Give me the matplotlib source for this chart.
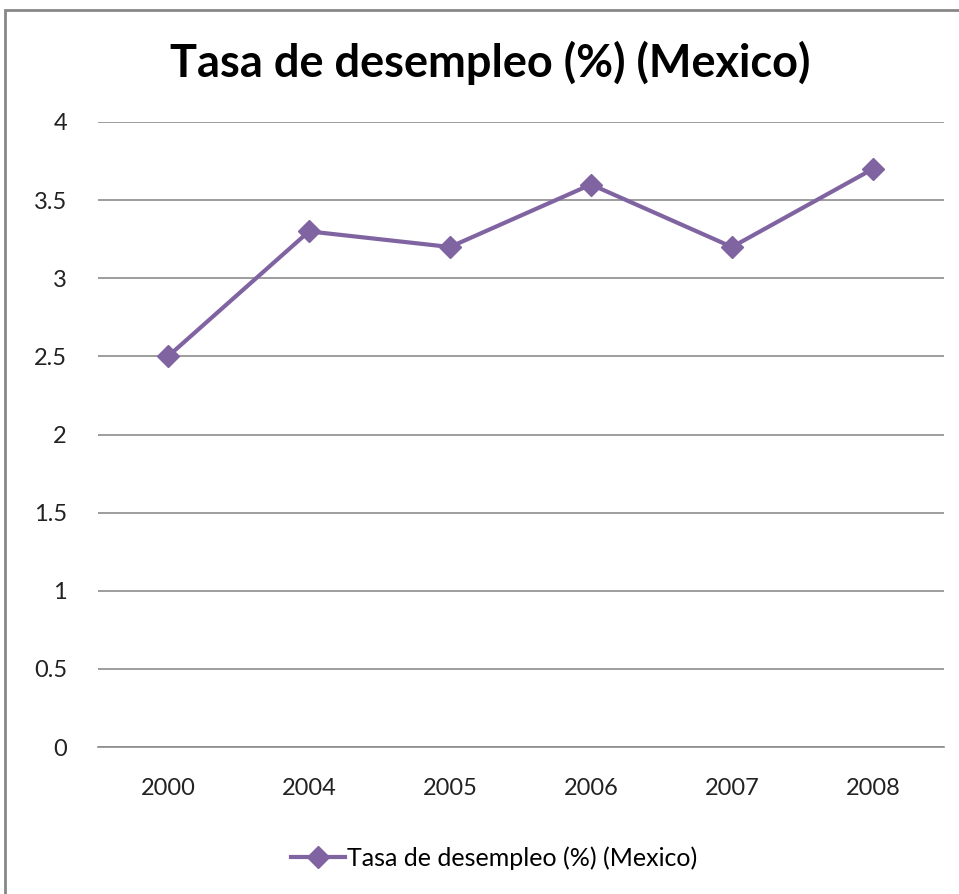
import matplotlib
matplotlib.use("Agg")
import matplotlib.pyplot as plt
from matplotlib.patches import Rectangle

years = ["2000", "2004", "2005", "2006", "2007", "2008"]
values = [2.5, 3.3, 3.2, 3.6, 3.2, 3.7]
title = "Tasa de desempleo (%) (Mexico)"
yticks = [0, 0.5, 1, 1.5, 2, 2.5, 3, 3.5, 4]

color = "#8064A2"
plt.rcParams['font.family'] = ['Lato', 'DejaVu Sans']

fig = plt.figure(figsize=(9.59, 8.94), dpi=100)
fig.patches.append(Rectangle((5/959, -0.1), 1.2, 1.1 - 10/894, transform=fig.transFigure,
                             fill=False, edgecolor="#878787", linewidth=2, zorder=0))

ax = fig.add_axes([97.5/959, 147/894, 846/959, 625/894])
x = list(range(len(years)))
ax.plot(x, values, color=color, linewidth=3, marker="D", markersize=11,
        label=title, zorder=3)
ax.set_xlim(-0.5, len(years) - 0.5)
ax.set_ylim(0, 4)
ax.set_yticks(yticks)
ax.set_yticklabels([f"{v:g}" for v in yticks])
ax.set_xticks(x)
ax.set_xticklabels(years)
ax.grid(axis="y", color="#8c8c8c", linewidth=1.2)
ax.set_axisbelow(True)
for s in ["top", "right", "left"]:
    ax.spines[s].set_visible(False)
ax.spines["bottom"].set_color("#8c8c8c")
ax.spines["bottom"].set_linewidth(1.2)
ax.tick_params(axis="both", length=0, labelsize=17, colors="#222222")
ax.tick_params(axis="y", pad=22)
ax.tick_params(axis="x", pad=22)

fig.text(490/959, 1 - 63/894, title, ha="center", va="center", fontsize=32.5,
         fontweight="bold", color="black")

leg = fig.legend(loc="center", bbox_to_anchor=(494/959, 1 - 858/894), frameon=False,
                 fontsize=18, handlelength=2.15, handletextpad=0.08)

fig.savefig("out.png", dpi=100)
